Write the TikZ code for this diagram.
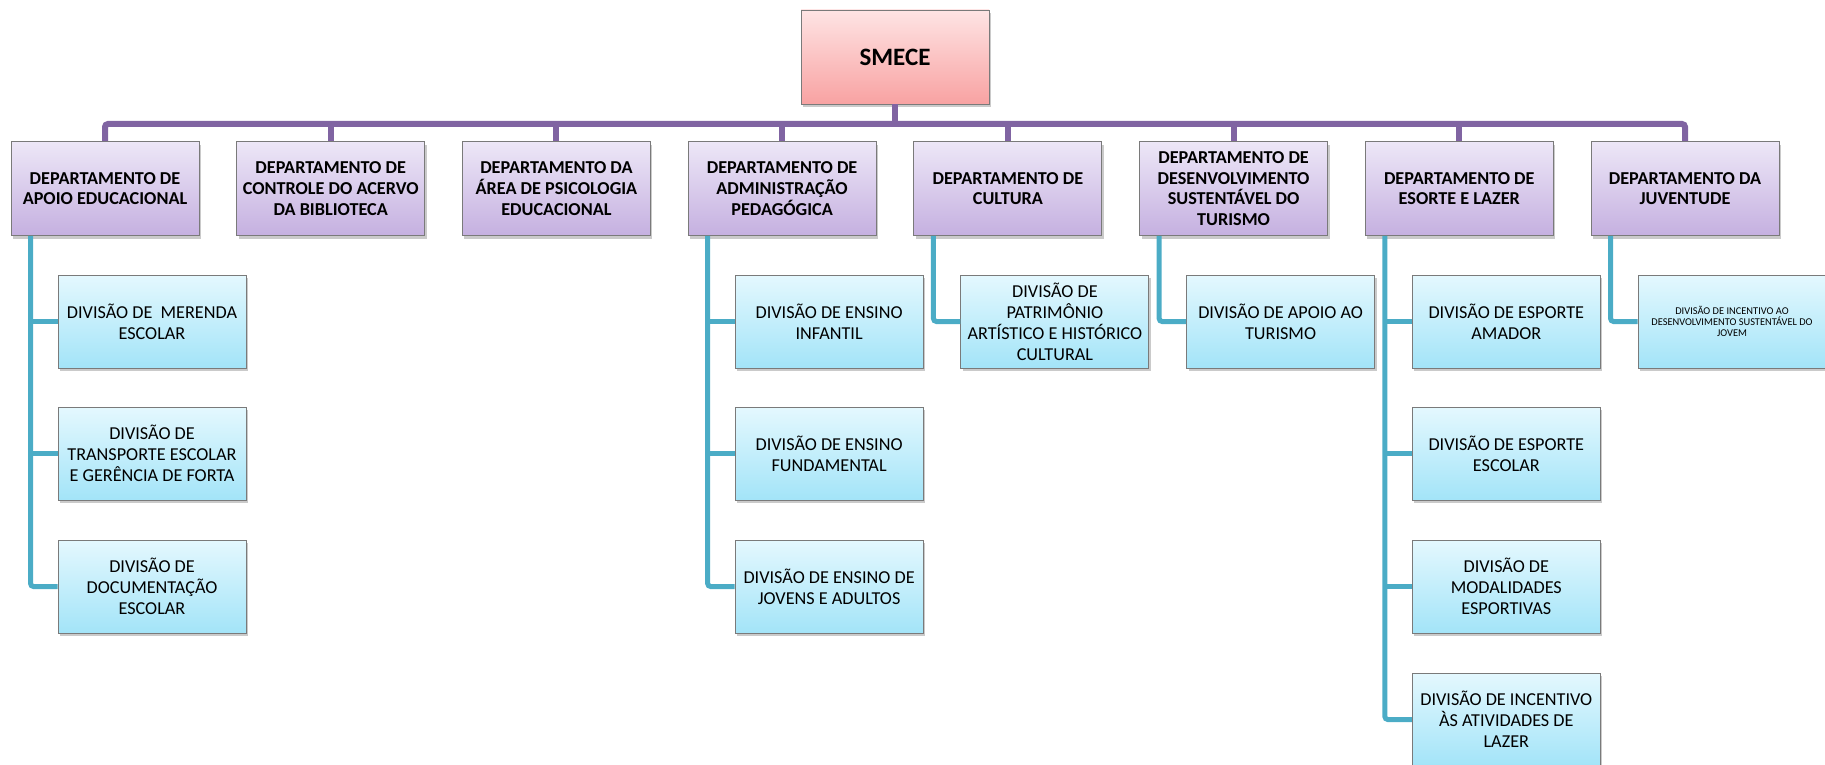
\documentclass[tikz,border=0pt]{standalone}
\usepackage{fontspec}
\setmainfont{Carlito}
\usetikzlibrary{shadows,calc}
\definecolor{deptTop}{HTML}{EDE7F7}
\definecolor{deptBot}{HTML}{C5B0E0}
\definecolor{divTop}{HTML}{E4F8FE}
\definecolor{divBot}{HTML}{A3E4F8}
\definecolor{rootTop}{HTML}{FEE4E4}
\definecolor{rootBot}{HTML}{F8A2A2}
\definecolor{boxLine}{HTML}{7A7A7A}
\definecolor{busPurple}{HTML}{8064A2}
\definecolor{linkTeal}{HTML}{4BACC6}
\tikzset{
  boxbase/.style={rectangle, draw=boxLine, line width=0.9pt, align=center,
    minimum width=188pt, minimum height=94pt, inner sep=2pt,
    drop shadow={shadow xshift=2pt, shadow yshift=-3pt, opacity=0.35, fill=black!60}},
  rootbox/.style={boxbase, top color=rootTop, bottom color=rootBot,
    font=\bfseries\fontsize{25}{28}\selectfont},
  deptbox/.style={boxbase, top color=deptTop, bottom color=deptBot,
    font=\bfseries\fontsize{18.2}{20.6}\selectfont},
  divbox/.style={boxbase, minimum height=93pt, top color=divTop, bottom color=divBot,
    font=\fontsize{18.2}{21}\selectfont},
  smalldiv/.style={divbox, font=\fontsize{10.4}{11.3}\selectfont},
  busline/.style={draw=busPurple, line width=6pt, rounded corners=3pt},
  tealline/.style={draw=linkTeal, line width=5pt, rounded corners=3pt},
}
\begin{document}
\begin{tikzpicture}[x=1pt,y=-1pt]
\useasboundingbox (0,0) rectangle (1825,765);
% root
\node[rootbox] (root) at (895,57) {SMECE};
% departments (centres x = 105 + 225.71 i, y = 188.5)
\node[deptbox] (d1) at (105.0,188.5) {DEPARTAMENTO DE\\APOIO EDUCACIONAL};
\node[deptbox] (d2) at (330.7,188.5) {DEPARTAMENTO DE\\CONTROLE DO ACERVO\\DA BIBLIOTECA};
\node[deptbox] (d3) at (556.4,188.5) {DEPARTAMENTO DA\\ÁREA DE PSICOLOGIA\\EDUCACIONAL};
\node[deptbox] (d4) at (782.1,188.5) {DEPARTAMENTO DE\\ADMINISTRAÇÃO\\PEDAGÓGICA};
\node[deptbox] (d5) at (1007.9,188.5) {DEPARTAMENTO DE\\CULTURA};
\node[deptbox] (d6) at (1233.6,188.5) {DEPARTAMENTO DE\\DESENVOLVIMENTO\\SUSTENTÁVEL DO\\TURISMO};
\node[deptbox] (d7) at (1459.3,188.5) {DEPARTAMENTO DE\\ESORTE E LAZER};
\node[deptbox] (d8) at (1685.0,188.5) {DEPARTAMENTO DA\\JUVENTUDE};
% divisions (centre x = dept centre + 47)
\node[divbox] (c11) at (152.0,321.5) {DIVISÃO DE\ \ MERENDA\\ESCOLAR};
\node[divbox] (c12) at (152.0,453.5) {DIVISÃO DE\\TRANSPORTE ESCOLAR\\E GERÊNCIA DE FORTA};
\node[divbox] (c13) at (152.0,586.5) {DIVISÃO DE\\DOCUMENTAÇÃO\\ESCOLAR};
\node[divbox] (c41) at (829.1,321.5) {DIVISÃO DE ENSINO\\INFANTIL};
\node[divbox] (c42) at (829.1,453.5) {DIVISÃO DE ENSINO\\FUNDAMENTAL};
\node[divbox] (c43) at (829.1,586.5) {DIVISÃO DE ENSINO DE\\JOVENS E ADULTOS};
\node[divbox] (c51) at (1054.9,321.5) {DIVISÃO DE\\PATRIMÔNIO\\ARTÍSTICO E HISTÓRICO\\CULTURAL};
\node[divbox] (c61) at (1280.6,321.5) {DIVISÃO DE APOIO AO\\TURISMO};
\node[divbox] (c71) at (1506.3,321.5) {DIVISÃO DE ESPORTE\\AMADOR};
\node[divbox] (c72) at (1506.3,453.5) {DIVISÃO DE ESPORTE\\ESCOLAR};
\node[divbox] (c73) at (1506.3,586.5) {DIVISÃO DE\\MODALIDADES\\ESPORTIVAS};
\node[divbox] (c74) at (1506.3,719.5) {DIVISÃO DE INCENTIVO\\ÀS ATIVIDADES DE\\LAZER};
\node[smalldiv] (c81) at (1732.0,321.5) {DIVISÃO DE INCENTIVO AO\\DESENVOLVIMENTO SUSTENTÁVEL DO\\JOVEM};
% purple bus
\coordinate (bus) at (0,124);
\draw[busline] (root.south) -- (root.south |- bus);
\draw[busline] (d1.north) -- (d1.north |- bus) -- (d8.north |- bus) -- (d8.north);
\foreach \d in {d2,d3,d4,d5,d6,d7}{
  \draw[busline] (\d.north |- bus) -- (\d.north);
}
% teal links
\foreach \d/\last/\others in {d1/c13/{c11,c12}, d4/c43/{c41,c42}, d7/c74/{c71,c72,c73}}{
  \coordinate (t) at ([xshift=20pt]\d.south west);
  \draw[tealline] (t) |- (\last.west);
  \foreach \c in \others { \draw[tealline] (t |- \c.west) -- (\c.west); }
}
\foreach \d/\c in {d5/c51, d6/c61, d8/c81}{
  \coordinate (t) at ([xshift=20pt]\d.south west);
  \draw[tealline] (t) |- (\c.west);
}
\end{tikzpicture}
\end{document}
